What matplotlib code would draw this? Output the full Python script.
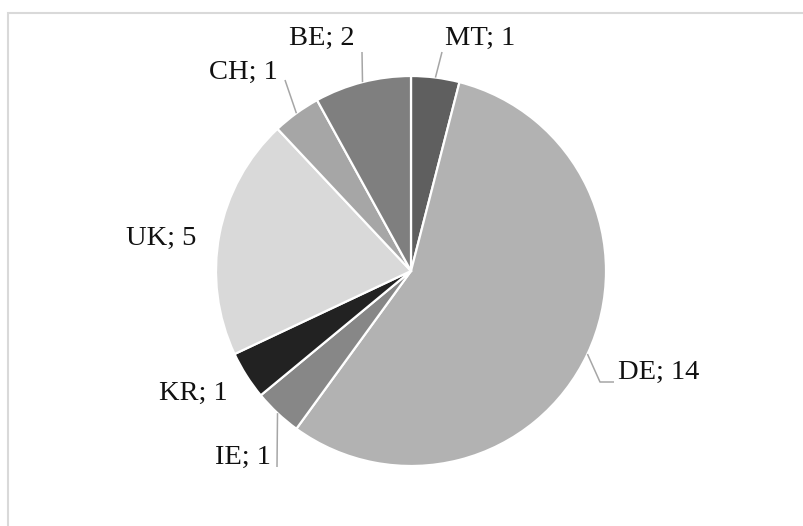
import numpy as np
import matplotlib
matplotlib.use("Agg")
import matplotlib.pyplot as plt
from matplotlib.patches import Rectangle

# countries in clockwise order starting at 12 o'clock
countries = ["MT", "DE", "IE", "KR", "UK", "CH", "BE"]
counts = [1, 14, 1, 1, 5, 1, 2]
shades = ["#5f5f5f", "#b2b2b2", "#878787", "#222222", "#d9d9d9", "#a6a6a6", "#7f7f7f"]

W, H = 804, 526

# label centres in pixels (from top-left), and leader bend/end points
label_pos = {
  "MT": (480, 38), "DE": (659, 372), "IE": (243, 457), "KR": (193, 393),
  "UK": (161, 238), "CH": (243, 72), "BE": (322, 38),
}
leaders = {
  "MT": [(442, 52)],
  "DE": [(600, 382), (614, 382)],
  "IE": [(277, 467)],
  "CH": [(285, 80)],
  "BE": [(362, 52)],
}

plt.rcParams['font.family'] = ['Liberation Serif', 'DejaVu Serif']

fig = plt.figure(figsize=(W / 100, H / 100), dpi=100)
ax = fig.add_axes([0, 0, 1, 1])

cx, cy, R = 411, 271, 195
wedges, _ = ax.pie(counts, colors=shades, startangle=90, counterclock=False,
                   center=(cx, H - cy), radius=R,
                   wedgeprops=dict(edgecolor="white", linewidth=1.6))

ax.set_xlim(0, W)
ax.set_ylim(0, H)
ax.set_aspect('auto')
ax.axis('off')

# leader lines start on the rim at each wedge's middle angle
for name, w in zip(countries, wedges):
  if name in leaders:
    mid = np.deg2rad((w.theta1 + w.theta2) / 2)
    xs = [w.center[0] + w.r * np.cos(mid)]
    ys = [w.center[1] + w.r * np.sin(mid)]
    for px, py in leaders[name]:
      xs.append(px)
      ys.append(H - py)
    ax.plot(xs, ys, color="#a6a6a6", linewidth=1.1, solid_capstyle='butt')

for name, n in zip(countries, counts):
  px, py = label_pos[name]
  ax.text(px, H - py, f"{name}; {n}", fontsize=20.5, color="#111111",
          ha="center", va="center")

# light frame around the chart area
ax.add_patch(Rectangle((8.5, -20), W + 40, H - 12.5 + 20, fill=False,
                       edgecolor="#d9d9d9", linewidth=1.5))

fig.savefig("out.png", dpi=100)
